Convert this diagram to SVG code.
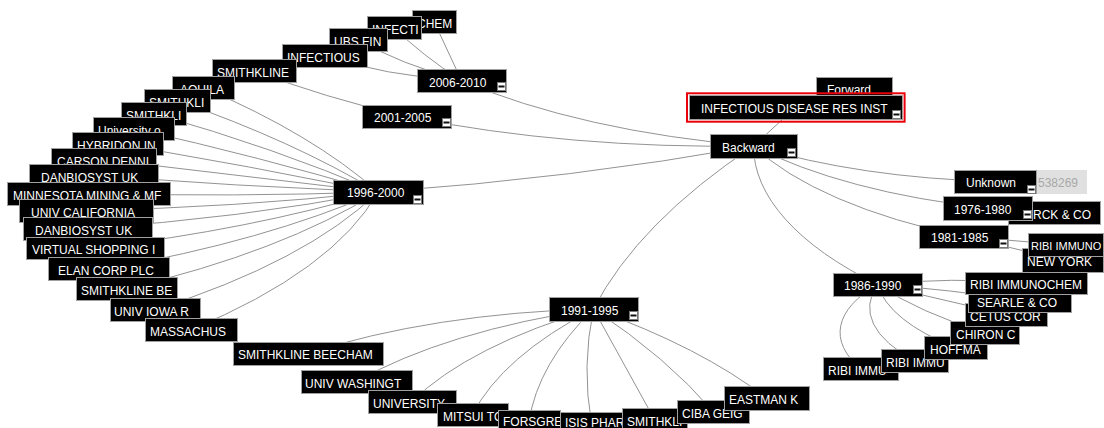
<svg xmlns="http://www.w3.org/2000/svg" xmlns:xlink="http://www.w3.org/1999/xlink" width="1104" height="428" viewBox="0 0 1104 428">
<style>
.n rect.b{fill:#000;stroke:#a0a0a0;stroke-width:1}
text{font-family:"Liberation Sans",Arial,sans-serif;font-size:12px;fill:#fff}
#edges path{fill:none;stroke:#939393;stroke-width:1}
</style>
<defs>
<g id="mi"><rect x="0.5" y="0.5" width="8" height="8" fill="#fff" stroke="#777"/><rect x="1.5" y="3.5" width="6" height="2" fill="#111"/></g>
</defs>
<rect width="1104" height="428" fill="#fff"/>
<g id="edges">
<path d="M795.5,107.5 L753.5,146"/>
<path d="M753.5,146 A546,212 0 0 1 461.5,80.5"/>
<path d="M753.5,146 A697,270 0 0 1 406.5,116.5"/>
<path d="M753.5,146 A1560,605 0 0 1 378,192"/>
<path d="M753.5,146 A1366,530 0 0 0 593.5,309"/>
<path d="M753.5,146 A445.5,172.7 0 0 0 995,181.5"/>
<path d="M753.5,146 A437.7,169.7 0 0 0 987.5,208"/>
<path d="M753.5,146 A461.8,179.1 0 0 0 963.5,236.5"/>
<path d="M753.5,146 A578.6,224.3 0 0 0 877.5,284.5"/>
<path d="M461.5,80.5 L434,21.5"/>
<path d="M461.5,80.5 A865.8,335.6 0 0 1 394,27.5"/>
<path d="M461.5,80.5 A379.7,147.2 0 0 1 358,39.5"/>
<path d="M461.5,80.5 A273.6,106.1 0 0 1 324.5,55.5"/>
<path d="M406.5,116.5 A767.3,297.5 0 0 1 254,70.5"/>
<path d="M378,192 A993.7,385.2 0 0 0 203,87.5"/>
<path d="M378,192 A1174.2,455.2 0 0 0 177,100.5"/>
<path d="M378,192 A1491.3,578.2 0 0 0 153.5,113.5"/>
<path d="M378,192 A2211,857.3 0 0 0 133.5,128.5"/>
<path d="M378,192 A4670,1810 0 0 0 117.5,143.5"/>
<path d="M378,192 L103.5,159.5"/>
<path d="M378,192 A3611,1400 0 0 1 93.5,175.5"/>
<path d="M378,192 A1900,736.6 0 0 1 88.5,193.5"/>
<path d="M378,192 A1335.4,517.7 0 0 1 86,210.5"/>
<path d="M378,192 A1060.6,411.2 0 0 1 87.5,228.5"/>
<path d="M378,192 A901.9,349.6 0 0 1 95,248"/>
<path d="M378,192 A809.9,314 0 0 1 108.5,268.5"/>
<path d="M378,192 A763.8,296.1 0 0 1 126.5,288.5"/>
<path d="M378,192 A742.5,287.9 0 0 1 155,309.5"/>
<path d="M378,192 A745.2,288.9 0 0 1 191,329.5"/>
<path d="M593.5,309 A491.8,190.7 0 0 0 308,353.5"/>
<path d="M593.5,309 A498.1,193.1 0 0 0 356.5,381.5"/>
<path d="M593.5,309 A549.9,213.2 0 0 0 412,401.5"/>
<path d="M593.5,309 A675.5,261.9 0 0 0 472.5,414.5"/>
<path d="M593.5,309 A939.9,364.4 0 0 0 529,421.5"/>
<path d="M593.5,309 A1987,770 0 0 0 591.5,423.5"/>
<path d="M593.5,309 L654.5,419.5"/>
<path d="M593.5,309 A1379.7,534.9 0 0 1 713,411.5"/>
<path d="M593.5,309 A798.9,309.7 0 0 1 766.5,398"/>
<path d="M877.5,284.5 A222.6,86.3 0 0 0 860.5,368.5"/>
<path d="M877.5,284.5 A229.5,89 0 0 0 914.5,360.5"/>
<path d="M877.5,284.5 A272.9,105.8 0 0 0 955.5,347.5"/>
<path d="M877.5,284.5 A439.2,170.3 0 0 0 984.5,332.5"/>
<path d="M877.5,284.5 L1006,314.5"/>
<path d="M877.5,284.5 A672.3,260.7 0 0 1 1019.5,300.5"/>
<path d="M877.5,284.5 A318.6,123.5 0 0 1 1026,283"/>
<path d="M963.5,236.5 L1062.5,260"/>
<path d="M963.5,236.5 L1066,245"/>
</g>
<g id="n-chem" class="n"><rect class="b" x="412.5" y="10.5" width="44" height="23"/><text x="417" y="27.5">CHEM</text></g>
<g id="n-infecti" class="n"><rect class="b" x="367.5" y="16.5" width="54" height="23"/><text x="372" y="33.5">INFECTI</text></g>
<g id="n-ubsfin" class="n"><rect class="b" x="329.5" y="28.5" width="58" height="23"/><text x="334" y="45.5">UBS FIN</text></g>
<g id="n-infectious" class="n"><rect class="b" x="282.5" y="44.5" width="85" height="23"/><text x="287" y="61.5">INFECTIOUS</text></g>
<g id="n-smithkline-a" class="n"><rect class="b" x="212.5" y="59.5" width="84" height="23"/><text x="217" y="76.5">SMITHKLINE</text></g>
<g id="n-aquila" class="n"><rect class="b" x="172.5" y="76.5" width="62" height="23"/><text x="180" y="93.5">AQUILA</text></g>
<g id="n-smithkli-a" class="n"><rect class="b" x="144.5" y="89.5" width="66" height="23"/><text x="149" y="106.5">SMITHKLI</text></g>
<g id="n-smithkli-b" class="n"><rect class="b" x="121.5" y="102.5" width="65" height="23"/><text x="126" y="119.5">SMITHKLI</text></g>
<g id="n-university-o" class="n"><rect class="b" x="93.5" y="117.5" width="81" height="23"/><text x="98" y="134.5">University o</text></g>
<g id="n-hybridon" class="n"><rect class="b" x="72.5" y="132.5" width="91" height="23"/><text x="77" y="149.5">HYBRIDON IN</text></g>
<g id="n-carson" class="n"><rect class="b" x="51.5" y="148.5" width="105" height="23"/><text x="57" y="165.5">CARSON DENNI</text></g>
<g id="n-danbio-a" class="n"><rect class="b" x="29.5" y="164.5" width="129" height="23"/><text x="41" y="181.5">DANBIOSYST UK</text></g>
<g id="n-minnesota" class="n"><rect class="b" x="7.5" y="182.5" width="163" height="23"/><text x="13" y="199.5">MINNESOTA MINING &amp; MF</text></g>
<g id="n-univcal" class="n"><rect class="b" x="19.5" y="199.5" width="134" height="23"/><text x="31" y="216.5">UNIV CALIFORNIA</text></g>
<g id="n-danbio-b" class="n"><rect class="b" x="23.5" y="217.5" width="129" height="23"/><text x="35" y="234.5">DANBIOSYST UK</text></g>
<g id="n-virtual" class="n"><rect class="b" x="26.5" y="237.5" width="138" height="22"/><text x="32" y="254">VIRTUAL SHOPPING I</text></g>
<g id="n-elan" class="n"><rect class="b" x="48.5" y="257.5" width="121" height="23"/><text x="58" y="274.5">ELAN CORP PLC</text></g>
<g id="n-smithkline-be" class="n"><rect class="b" x="76.5" y="277.5" width="101" height="23"/><text x="81" y="294.5">SMITHKLINE BE</text></g>
<g id="n-univiowa" class="n"><rect class="b" x="110.5" y="298.5" width="90" height="23"/><text x="114" y="315.5">UNIV IOWA R</text></g>
<g id="n-massachus" class="n"><rect class="b" x="145.5" y="318.5" width="92" height="23"/><text x="150" y="335.5">MASSACHUS</text></g>
<g id="n-sb-beecham" class="n"><rect class="b" x="233.5" y="342.5" width="150" height="23"/><text x="238" y="359">SMITHKLINE BEECHAM</text></g>
<g id="n-univwash" class="n"><rect class="b" x="301.5" y="370.5" width="111" height="23"/><text x="305" y="387.5">UNIV WASHINGT</text></g>
<g id="n-university" class="n"><rect class="b" x="368.5" y="390.5" width="88" height="23"/><text x="373" y="407.5">UNIVERSITY</text></g>
<g id="n-mitsui" class="n"><rect class="b" x="437.5" y="403.5" width="71" height="23"/><text x="443" y="420.5">MITSUI TO</text></g>
<g id="n-forsgre" class="n"><rect class="b" x="498.5" y="410.5" width="62" height="23"/><text x="503" y="426">FORSGRE</text></g>
<g id="n-isis" class="n"><rect class="b" x="560.5" y="412.5" width="63" height="23"/><text x="565" y="426.5">ISIS PHAR</text></g>
<g id="n-smithkli-c" class="n"><rect class="b" x="622.5" y="408.5" width="65" height="23"/><text x="627" y="425.5">SMITHKLI</text></g>
<g id="n-ciba" class="n"><rect class="b" x="677.5" y="400.5" width="72" height="23"/><text x="682" y="417.5">CIBA GEIG</text></g>
<g id="n-eastman" class="n"><rect class="b" x="724.5" y="386.5" width="85" height="24"/><text x="729" y="404">EASTMAN K</text></g>
<g id="n-ribi-a" class="n"><rect class="b" x="823.5" y="357.5" width="75" height="23"/><text x="828" y="374.5">RIBI IMMU</text></g>
<g id="n-ribi-b" class="n"><rect class="b" x="881.5" y="349.5" width="67" height="23"/><text x="886" y="366.5">RIBI IMMU</text></g>
<g id="n-hoffma" class="n"><rect class="b" x="924.5" y="336.5" width="63" height="23"/><text x="930" y="353.5">HOFFMA</text></g>
<g id="n-chiron" class="n"><rect class="b" x="950.5" y="321.5" width="69" height="23"/><text x="956" y="338.5">CHIRON C</text></g>
<g id="n-cetus" class="n"><rect class="b" x="965.5" y="303.5" width="82" height="23"/><text x="970" y="320.5">CETUS COR</text></g>
<g id="n-searle" class="n"><rect class="b" x="968.5" y="289.5" width="103" height="23"/><text x="977" y="306.5">SEARLE &amp; CO</text></g>
<g id="n-ribi-chem" class="n"><rect class="b" x="965.5" y="272.5" width="122" height="22"/><text x="970" y="288.5">RIBI IMMUNOCHEM</text></g>
<g id="n-newyork" class="n"><rect class="b" x="1022.5" y="248.5" width="81" height="24"/><text x="1027" y="266">NEW YORK</text></g>
<g id="n-ribi-c" class="n"><rect class="b" x="1028.5" y="233.5" width="75" height="23"/><text x="1031" y="250" style="font-size:11px">RIBI IMMUNO</text></g>
<g id="n-merck" class="n"><rect class="b" x="1008.5" y="201.5" width="92" height="23"/><text x="1033" y="218.5">RCK &amp; CO</text></g>
<g id="n-2006" class="n"><rect class="b" x="417.5" y="69.5" width="89" height="23"/><text x="429" y="86.5">2006-2010</text><use xlink:href="#mi" x="497" y="82"/></g>
<g id="n-2001" class="n"><rect class="b" x="362.5" y="105.5" width="89" height="23"/><text x="374" y="122">2001-2005</text><use xlink:href="#mi" x="442" y="118"/></g>
<g id="n-1996" class="n"><rect class="b" x="333.5" y="180.5" width="90" height="24"/><text x="347" y="197">1996-2000</text><use xlink:href="#mi" x="413" y="195"/></g>
<g id="n-1991" class="n"><rect class="b" x="549.5" y="297.5" width="89" height="24"/><text x="561" y="315">1991-1995</text><use xlink:href="#mi" x="629" y="311"/></g>
<g id="n-1986" class="n"><rect class="b" x="833.5" y="273.5" width="89" height="23"/><text x="844" y="290">1986-1990</text><use xlink:href="#mi" x="913" y="285"/></g>
<g id="n-1981" class="n"><rect class="b" x="919.5" y="225.5" width="89" height="23"/><text x="931" y="242">1981-1985</text><use xlink:href="#mi" x="999" y="239"/></g>
<g id="n-1976" class="n"><rect class="b" x="943.5" y="196.5" width="89" height="24"/><text x="954" y="214">1976-1980</text><use xlink:href="#mi" x="1023" y="210"/></g>
<g id="n-unknown" class="n"><rect class="b" x="954.5" y="170.5" width="82" height="23"/><text x="966" y="187">Unknown</text><use xlink:href="#mi" x="1027" y="185"/><rect x="1037" y="170" width="50" height="24" fill="#e0e0e0"/><text x="1038" y="187" style="fill:#a8a8a8">538269</text></g>
<g id="n-backward" class="n"><rect class="b" x="710.5" y="134.5" width="87" height="24"/><text x="722" y="152">Backward</text><use xlink:href="#mi" x="787" y="148"/></g>
<g id="n-forward" class="n"><rect class="b" x="816.5" y="77.5" width="76" height="23"/><text x="827" y="94">Forward</text></g>
<g id="n-root" class="n"><rect class="b" x="689.5" y="95.5" width="213" height="24"/><rect x="687" y="93.3" width="217.6" height="28.4" fill="none" stroke="#e8000b" stroke-width="2"/><text x="701" y="113">INFECTIOUS DISEASE RES INST</text><use xlink:href="#mi" x="892" y="110"/></g>
</svg>
